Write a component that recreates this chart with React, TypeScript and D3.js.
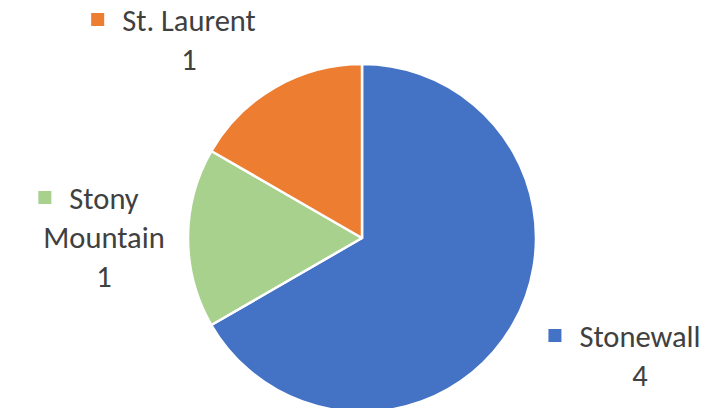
import * as d3 from 'd3';
import React, { useEffect, useRef } from 'react';

// slice data, in drawing order (clockwise from 12 o'clock)
const categories = ['Stonewall', 'Stony Mountain', 'St. Laurent'];
const values = [4, 1, 1];
const colors = ['#4472C4', '#A9D18E', '#ED7D31'];
// label lines as Excel wrapped them
const labelLines = [['Stonewall'], ['Stony', 'Mountain'], ['St. Laurent']];

function PieChart() {
    const ref = useRef<SVGSVGElement>(null);

    useEffect(() => {
        const cx = 362, cy = 238, radius = 174;

        const svg = d3.select(ref.current);
        svg.selectAll('*').remove();

        const g = svg.append('g').attr('transform', `translate(${cx},${cy})`);

        const pie = d3.pie<number>().sort(null).value(d => d);
        const arcs = pie(values);
        const arc = d3.arc<d3.PieArcDatum<number>>().innerRadius(0).outerRadius(radius);

        g.selectAll('path')
            .data(arcs)
            .enter().append('path')
            .attr('d', arc)
            .attr('fill', (d, i) => colors[i])
            .attr('stroke', '#fff')
            .attr('stroke-width', 2.5)
            .attr('stroke-linejoin', 'round');

        // best-fit label spots, relative to pie centre (x = text centre, y = first baseline)
        const labelSpots = [
            { x: 278, y: 109 },
            { x: -258, y: -29 },
            { x: -173, y: -207 },
        ];
        const lineH = 39;
        const fontSize = 30.5;

        arcs.forEach((a, i) => {
            const spot = labelSpots[i];
            const lines = [...labelLines[i], String(values[i])];
            const lg = g.append('g').attr('class', `label-${categories[i].replace(/\s+/g, '-')}`);

            const text = lg.append('text')
                .attr('text-anchor', 'middle')
                .attr('font-family', 'Carlito, Calibri, Lato, sans-serif')
                .attr('font-size', fontSize)
                .attr('fill', '#404040');
            lines.forEach((ln, j) => {
                text.append('tspan')
                    .attr('x', spot.x)
                    .attr('y', spot.y + j * lineH)
                    .text(ln);
            });

            // legend key sits left of the first line
            const firstW = (text.select('tspan').node() as SVGTSpanElement).getComputedTextLength();
            lg.append('rect')
                .attr('x', spot.x - firstW / 2 - 31)
                .attr('y', spot.y - 18)
                .attr('width', 13)
                .attr('height', 13)
                .attr('fill', colors[i]);
        });
    }, []);

    return (
        <svg ref={ref} width={708} height={408}
            style={{ position: 'absolute', left: 0, top: 0, background: '#fff' }} />
    );
}

export default function App() {
    return <PieChart />;
}
